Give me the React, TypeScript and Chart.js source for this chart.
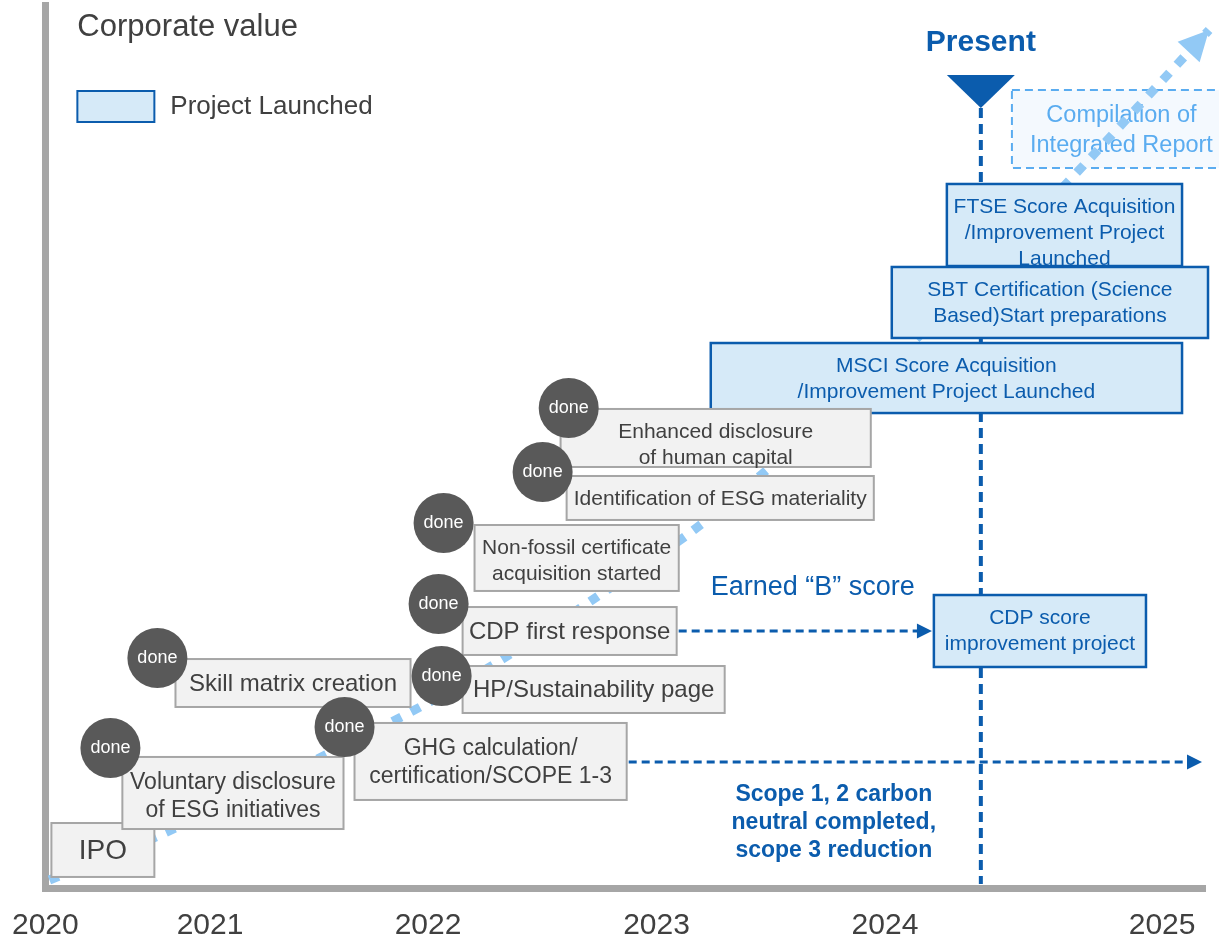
import React, { useEffect, useRef } from 'react';
import { Chart, registerables } from 'chart.js';

Chart.register(...registerables);

// ---------- data ----------
const yearLabels = ['2020', '2021', '2022', '2023', '2024', '2025'];
const yearTickPositions = [0, 14.2, 33.0, 52.7, 72.4, 96.3];

// corporate value growth curve (timeline position %, value %)
const valueCurveX = [0.35, 10.09, 24.5, 32.96, 39.43, 47.54, 55.57, 62.21, 74.98, 88.09, 100.35];
const valueCurveY = [0.91, 6.12, 15.29, 20.95, 25.93, 32.96, 40.2, 47.34, 62.06, 79.84, 97.17];

const milestoneLabels = [
  'MSCI Score Acquisition\n/Improvement Project Launched',
  'FTSE Score Acquisition\n/Improvement Project\nLaunched',
  'SBT Certification (Science\nBased)Start preparations',
  'CDP score\nimprovement project',
  'IPO',
  'Voluntary disclosure\nof ESG initiatives',
  'Skill matrix creation',
  'GHG calculation/\ncertification/SCOPE 1-3',
  'CDP first response',
  'HP/Sustainability page',
  'Non-fossil certificate\nacquisition started',
  'Enhanced disclosure\nof human capital',
  'Identification of ESG materiality',
];
const milestoneStatus = [
  'launched', 'launched', 'launched', 'launched',
  'achieved', 'done', 'done', 'done', 'done', 'done', 'done', 'done', 'done',
];
const milestoneStart = [57.38, 77.74, 72.99, 76.62, 0.52, 6.64, 11.22, 26.66, 35.98, 35.98, 37.01, 44.43, 44.95];
const milestoneEnd = [98.02, 98.02, 100.26, 94.91, 9.4, 25.71, 31.49, 50.13, 54.44, 58.58, 54.62, 71.18, 71.44];
const milestoneHigh = [61.72, 79.73, 70.33, 33.18, 7.36, 14.84, 25.93, 18.69, 31.82, 25.14, 41.11, 54.25, 46.66];
const milestoneLow = [53.79, 70.44, 62.29, 25.03, 1.25, 6.68, 20.5, 9.97, 26.39, 19.82, 33.64, 47.68, 41.68];
const doneBadgeX = [null, null, null, null, null, 5.61, 9.66, 25.8, 33.91, 34.17, 34.34, 45.13, 42.88];
const doneBadgeY = [null, null, null, null, null, 15.86, 26.05, 18.23, 32.16, 24.01, 41.34, 54.36, 47.11];

const plannedLabel = 'Compilation of\nIntegrated Report';
const plannedStart = 83.35;
const plannedEnd = 102.24;
const plannedHigh = 90.37;
const plannedLow = 81.54;

const linkFrom = [54.44, 50.13];
const linkTo = [76.45, 99.74];
const linkLevel = [29.1, 14.27];
const linkNotes = ['Earned \u201cB\u201d score', 'Scope 1, 2 carbon\nneutral completed,\nscope 3 reduction'];
const linkNoteX = [57.38, 67.99];
const linkNoteY = [34.08, 10.53];

const presentPosition = 80.67;
const presentMarkerTop = 92.07;
const presentMarkerTip = 88.34;
const presentLabelY = 95.75;

// ---------- styles ----------
const FONT = "'Liberation Sans', Arial, Helvetica, sans-serif";
const GRAY_TEXT = '#404040';
const BLUE = '#0b5cad';
const BLUE_FILL = '#d6eaf8';
const GRAY_FILL = '#f2f2f2';
const GRAY_BORDER = '#a6a6a6';
const DONE_FILL = '#595959';
const CURVE = '#92c9f5';
const PLAN = '#5aacf0';
const PLAN_FILL = '#f4f9fe';
const milestoneFontPx = [21, 21, 21, 21, 28, 23, 24, 23, 24, 24, 21, 21, 21];
const noteStyle = [
  { size: 27, weight: 'normal', align: 'left' },
  { size: 23, weight: 'bold', align: 'center' },
];

function drawLines(
  ctx: CanvasRenderingContext2D,
  lines: string[],
  x: number,
  firstY: number,
  size: number,
  color: string,
  weight = 'normal',
  align: CanvasTextAlign = 'center',
  spacing = 1.25
) {
  ctx.save();
  ctx.font = `${weight} ${size}px ${FONT}`;
  ctx.fillStyle = color;
  ctx.textAlign = align;
  ctx.textBaseline = 'middle';
  lines.forEach((l, i) => ctx.fillText(l, x, firstY + i * size * spacing));
  ctx.restore();
}

function boxText(ctx: CanvasRenderingContext2D, label: string, x0: number, x1: number, y0: number, y1: number, size: number, color: string) {
  const lines = label.split('\n');
  const cx = (x0 + x1) / 2;
  const first = lines.length === 1 ? (y0 + y1) / 2 + 1 : y0 + size * 1.1;
  drawLines(ctx, lines, cx, first, size, color);
}

function arrowHead(ctx: CanvasRenderingContext2D, tipX: number, tipY: number, dx: number, dy: number, len: number, half: number, color: string) {
  const d = Math.hypot(dx, dy) || 1;
  const ux = dx / d;
  const uy = dy / d;
  const nx = -uy;
  const ny = ux;
  const bx = tipX - ux * len;
  const by = tipY - uy * len;
  ctx.save();
  ctx.fillStyle = color;
  ctx.beginPath();
  ctx.moveTo(tipX, tipY);
  ctx.lineTo(bx + nx * half, by + ny * half);
  ctx.lineTo(bx - nx * half, by - ny * half);
  ctx.closePath();
  ctx.fill();
  ctx.restore();
}

const diagramPlugin = {
  id: 'diagram',
  beforeDatasetsDraw(chart: any) {
    const { ctx, chartArea } = chart;
    const xs = chart.scales.x;
    const ys = chart.scales.y;
    const X = (v: number) => xs.getPixelForValue(v);
    const Y = (v: number) => ys.getPixelForValue(v);

    // planned box (behind curve)
    const px0 = X(plannedStart), px1 = X(plannedEnd), py0 = Y(plannedHigh), py1 = Y(plannedLow);
    ctx.save();
    ctx.fillStyle = PLAN_FILL;
    ctx.fillRect(px0, py0, px1 - px0, py1 - py0);
    ctx.strokeStyle = PLAN;
    ctx.lineWidth = 2;
    ctx.setLineDash([8, 5]);
    ctx.strokeRect(px0, py0, px1 - px0, py1 - py0);
    ctx.restore();
    boxText(ctx, plannedLabel, px0, px1, py0, py1, 23.5, PLAN);

    // present line
    const pX = X(presentPosition);
    ctx.save();
    ctx.strokeStyle = BLUE;
    ctx.lineWidth = 4;
    ctx.setLineDash([10, 6]);
    ctx.beginPath();
    ctx.moveTo(pX, Y(presentMarkerTip));
    ctx.lineTo(pX, chartArea.bottom - 4);
    ctx.stroke();
    ctx.restore();

    // dashed link arrows
    linkFrom.forEach((f, i) => {
      const y = Y(linkLevel[i]);
      const x0 = X(f);
      const x1 = X(linkTo[i]);
      ctx.save();
      ctx.strokeStyle = BLUE;
      ctx.lineWidth = 3;
      ctx.setLineDash([8, 5]);
      ctx.beginPath();
      ctx.moveTo(x0 + 2, y);
      ctx.lineTo(x1 - 14, y);
      ctx.stroke();
      ctx.restore();
      arrowHead(ctx, x1, y, 1, 0, 15, 7.5, BLUE);
    });

    // clip away the curve beyond arrow base
    const n = valueCurveX.length;
    const tx = X(valueCurveX[n - 1]), ty = Y(valueCurveY[n - 1]);
    const sx = X(valueCurveX[n - 2]), sy = Y(valueCurveY[n - 2]);
    const d = Math.hypot(tx - sx, ty - sy);
    const ux = (tx - sx) / d, uy = (ty - sy) / d;
    const nx = -uy, ny = ux;
    const bx = tx - ux * 27, by = ty - uy * 27;
    ctx.save();
    ctx.beginPath();
    ctx.rect(0, 0, chart.width, chart.height);
    ctx.moveTo(bx + nx * 20, by + ny * 20);
    ctx.lineTo(bx + nx * 20 + ux * 20, by + ny * 20 + uy * 20);
    ctx.lineTo(bx - nx * 20 + ux * 20, by - ny * 20 + uy * 20);
    ctx.lineTo(bx - nx * 20, by - ny * 20);
    ctx.closePath();
    ctx.clip('evenodd');
  },
  afterDatasetsDraw(chart: any) {
    const { ctx, chartArea } = chart;
    ctx.restore();
    const xs = chart.scales.x;
    const ys = chart.scales.y;
    const X = (v: number) => xs.getPixelForValue(v);
    const Y = (v: number) => ys.getPixelForValue(v);

    // curve arrowhead
    const n = valueCurveX.length;
    const tx = X(valueCurveX[n - 1]), ty = Y(valueCurveY[n - 1]);
    const sx = X(valueCurveX[n - 2]), sy = Y(valueCurveY[n - 2]);
    arrowHead(ctx, tx, ty, tx - sx, ty - sy, 30, 15, CURVE);

    // present marker
    const pX = X(presentPosition);
    ctx.save();
    ctx.fillStyle = BLUE;
    ctx.beginPath();
    const triTop = Y(presentMarkerTop);
    const triTip = Y(presentMarkerTip);
    const half = 34;
    ctx.moveTo(pX - half, triTop);
    ctx.lineTo(pX + half, triTop);
    ctx.lineTo(pX, triTip);
    ctx.closePath();
    ctx.fill();
    ctx.restore();
    drawLines(ctx, ['Present'], pX, Y(presentLabelY), 30, BLUE, 'bold');

    // milestone boxes
    milestoneLabels.forEach((label, i) => {
      const x0 = X(milestoneStart[i]);
      const x1 = X(milestoneEnd[i]);
      const y0 = Y(milestoneHigh[i]);
      const y1 = Y(milestoneLow[i]);
      const launched = milestoneStatus[i] === 'launched';
      ctx.save();
      ctx.fillStyle = launched ? BLUE_FILL : GRAY_FILL;
      ctx.fillRect(x0, y0, x1 - x0, y1 - y0);
      ctx.strokeStyle = launched ? BLUE : GRAY_BORDER;
      ctx.lineWidth = launched ? 2.5 : 2;
      ctx.strokeRect(x0, y0, x1 - x0, y1 - y0);
      ctx.restore();
      boxText(ctx, label, x0, x1, y0, y1, milestoneFontPx[i], launched ? BLUE : GRAY_TEXT);
      const bxv = doneBadgeX[i];
      const byv = doneBadgeY[i];
      if (milestoneStatus[i] === 'done' && bxv !== null && byv !== null) {
        const cx = X(bxv);
        const cy = Y(byv);
        ctx.save();
        ctx.fillStyle = DONE_FILL;
        ctx.beginPath();
        ctx.arc(cx, cy, 30, 0, Math.PI * 2);
        ctx.fill();
        ctx.restore();
        drawLines(ctx, ['done'], cx, cy, 18, '#ffffff');
      }
    });

    // notes on link arrows
    linkNotes.forEach((note, i) => {
      const st = noteStyle[i];
      drawLines(ctx, note.split('\n'), X(linkNoteX[i]), Y(linkNoteY[i]), st.size, BLUE, st.weight, st.align as CanvasTextAlign, 1.22);
    });

    // axis title and legend
    drawLines(ctx, ['Corporate value'], chartArea.left + 32, chartArea.top + 22, 31, GRAY_TEXT, 'normal', 'left');
    ctx.save();
    ctx.fillStyle = BLUE_FILL;
    ctx.fillRect(chartArea.left + 32, chartArea.top + 86, 77, 31);
    ctx.strokeStyle = BLUE;
    ctx.lineWidth = 2;
    ctx.strokeRect(chartArea.left + 32, chartArea.top + 86, 77, 31);
    ctx.restore();
    drawLines(ctx, ['Project Launched'], chartArea.left + 125, chartArea.top + 102, 26, GRAY_TEXT, 'normal', 'left');
  },
};

export default function App() {
  const canvasRef = useRef<HTMLCanvasElement | null>(null);

  useEffect(() => {
    if (!canvasRef.current) return;
    const chart = new Chart(canvasRef.current, {
      type: 'line',
      data: {
        datasets: [
          {
            label: 'Corporate value',
            data: valueCurveX.map((x, i) => ({ x, y: valueCurveY[i] })),
            borderColor: CURVE,
            borderWidth: 9,
            borderDash: [10, 11],
            borderCapStyle: 'butt',
            pointRadius: 0,
            tension: 0.3,
            fill: false,
            clip: false as any,
          },
        ],
      },
      options: {
        responsive: false,
        animation: false,
        layout: { padding: { left: 42, right: 14, top: 5, bottom: 0 } },
        plugins: {
          legend: { display: false },
          tooltip: { enabled: false },
        },
        scales: {
          x: {
            type: 'linear',
            min: 0,
            max: 100,
            grid: { display: false },
            border: { display: true, color: GRAY_BORDER, width: 7 },
            ticks: {
              autoSkip: false,
              maxRotation: 0,
              padding: 12,
              color: GRAY_TEXT,
              font: { family: FONT, size: 30 },
              callback: (_v: any, index: number) => yearLabels[index] ?? '',
            },
            afterBuildTicks: (scale: any) => {
              scale.ticks = yearTickPositions.map((v) => ({ value: v }));
            },
            afterFit: (scale: any) => {
              scale.height = 51;
            },
          },
          y: {
            type: 'linear',
            min: 0,
            max: 100,
            grid: { display: false },
            border: { display: true, color: GRAY_BORDER, width: 7 },
            ticks: { display: false },
            afterFit: (scale: any) => {
              scale.width = 0;
            },
          },
        },
      },
      plugins: [diagramPlugin],
    });
    return () => chart.destroy();
  }, []);

  return (
    <div style={{ position: 'absolute', left: 0, top: 0, width: 1219, height: 939, background: '#ffffff' }}>
      <canvas ref={canvasRef} width={1219} height={939} style={{ width: 1219, height: 939, display: 'block' }} />
    </div>
  );
}
